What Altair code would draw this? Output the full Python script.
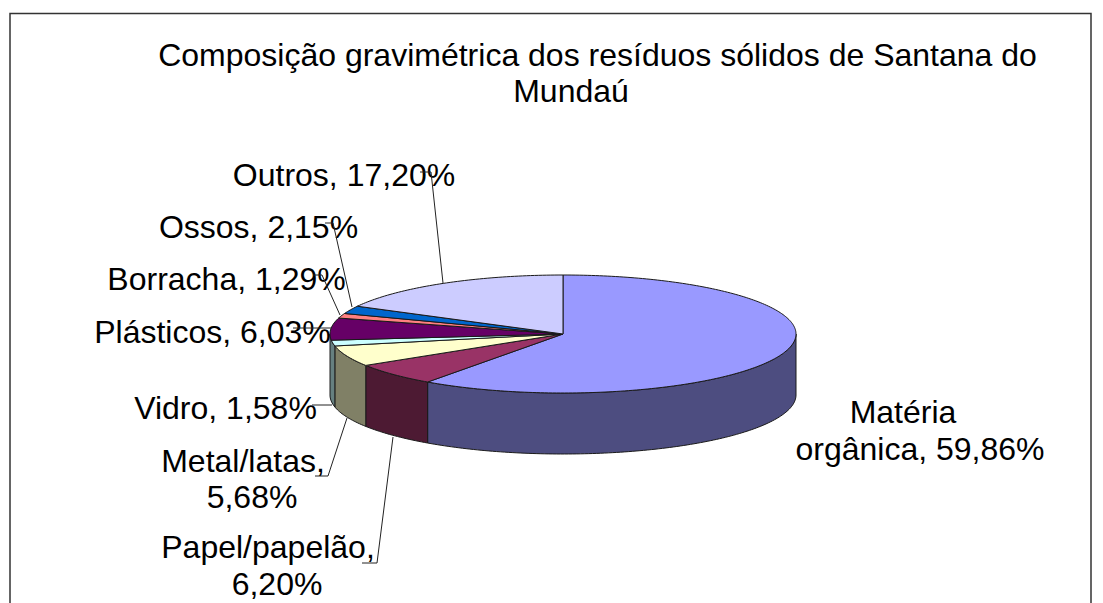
import math
import altair as alt

# ---- data ----
names = ["Matéria orgânica", "Papel/papelão", "Metal/latas", "Vidro", "Plásticos", "Borracha", "Ossos", "Outros"]
values = [59.86, 6.20, 5.68, 1.58, 6.03, 1.29, 2.15, 17.20]
top_colors = ["#9999FF", "#993366", "#FFFFCC", "#CCFFFF", "#660066", "#FF8080", "#0066CC", "#CCCCFF"]
side_colors = ["#4D4D80", "#4D1A33", "#808066", "#668080", "#668080", "#804040", "#003366", "#666680"]

title_lines = ["Composição gravimétrica dos resíduos sólidos de Santana do", "Mundaú"]
label_lines = ["Outros, 17,20%", "Ossos, 2,15%", "Borracha, 1,29%", "Plásticos, 6,03%", "Vidro, 1,58%",
               "Metal/latas,", "5,68%", "Papel/papelão,", "6,20%", "Matéria", "orgânica, 59,86%"]

# ---- layout (page pixels) ----
MARGIN = 8
CX, CY, RX, RY, DEPTH = 563, 334, 233, 59, 61
title_pos = [(597.5, 66), (571, 102)]
label_pos = [(344, 186), (258.5, 238), (226.5, 290), (212.5, 343), (225.5, 419),
             (243, 472), (252, 508), (268, 558), (277, 595), (903, 423), (920, 460)]
leaders = [
    [(420, 172), (431, 172), (443, 283)],
    [(325, 223), (333, 223), (352, 307)],
    [(313, 275), (322, 275), (340, 315)],
    [(293, 328), (331, 328)],
    [(312, 405), (332, 405)],
    [(315, 476), (328, 476), (347, 418)],
    [(362, 563), (377, 563), (393, 437)],
]
frame = [[(10, 603), (10, 13.5), (1091, 13.5), (1091, 603)]]


def pt(deg, dy=0.0):
    a = math.radians(deg)
    return [CX + RX * math.sin(a), CY - RY * math.cos(a) + dy]


def arc(a0, a1, dy=0.0):
    n = max(2, int(abs(a1 - a0)) + 2)
    return [pt(a0 + (a1 - a0) * i / (n - 1), dy) for i in range(n)]


tops, sides = [], []
acc = 0.0
total = sum(values)
for name, v, tc, sc in zip(names, values, top_colors, side_colors):
    a0, a1 = acc / total * 360, (acc + v) / total * 360
    acc += v
    ring = [[CX, CY]] + arc(a0, a1) + [[CX, CY]]
    tops.append({"type": "Feature", "geometry": {"type": "Polygon", "coordinates": [ring]},
                 "properties": {"name": name, "fill": tc}})
    # The sliver of the next wall up to the pie's left edge is merged into Vidro's wall
    s0, s1 = max(a0, 90), min(a1, 270)
    if name == "Vidro":
        s1 = 270
    if s1 > s0 and name != "Plásticos":
        wall = arc(s0, s1) + arc(s1, s0, DEPTH)
        wall.append(wall[0])
        sides.append({"type": "Feature", "geometry": {"type": "Polygon", "coordinates": [wall]},
                      "properties": {"name": name, "fill": sc}})


def lines(coll):
    return [{"type": "Feature", "geometry": {"type": "LineString", "coordinates": [list(p) for p in c]},
             "properties": {}} for c in coll]


proj = alt.Projection(type="identity", scale=1, translate=[-MARGIN, -MARGIN])
FONT = "Liberation Sans"


def shapes(features, **kw):
    return alt.Chart(alt.Data(values=features)).mark_geoshape(**kw).project(**proj.to_dict())


side_layer = shapes(sides, stroke="#1a1a1a", strokeWidth=1).encode(
    color=alt.Color("properties.fill:N", scale=None))
top_layer = shapes(tops, stroke="#1a1a1a", strokeWidth=1).encode(
    color=alt.Color("properties.fill:N", scale=None))
leader_layer = shapes(lines(leaders), filled=False, stroke="#222222", strokeWidth=1)
frame_layer = shapes(lines(frame), filled=False, stroke="#333333", strokeWidth=1.5)


def text_layer(texts, pos):
    rows = [{"t": t, "px": p[0] - MARGIN, "py": p[1] - MARGIN} for t, p in zip(texts, pos)]
    return alt.Chart(alt.Data(values=rows)).mark_text(
        font=FONT, fontSize=32, align="center", baseline="alphabetic", color="#000000"
    ).encode(
        x=alt.X("px:Q", scale=None, axis=None),
        y=alt.Y("py:Q", scale=None, axis=None),
        text="t:N",
    )


chart = alt.layer(
    frame_layer, side_layer, top_layer,
    text_layer(title_lines, title_pos), text_layer(label_lines, label_pos),
    leader_layer,
).properties(width=1087, height=595, padding=0, background="#ffffff", autosize="none"
).configure_view(stroke=None)

chart.save("out.html", embed_options={"renderer": "svg", "actions": False})
